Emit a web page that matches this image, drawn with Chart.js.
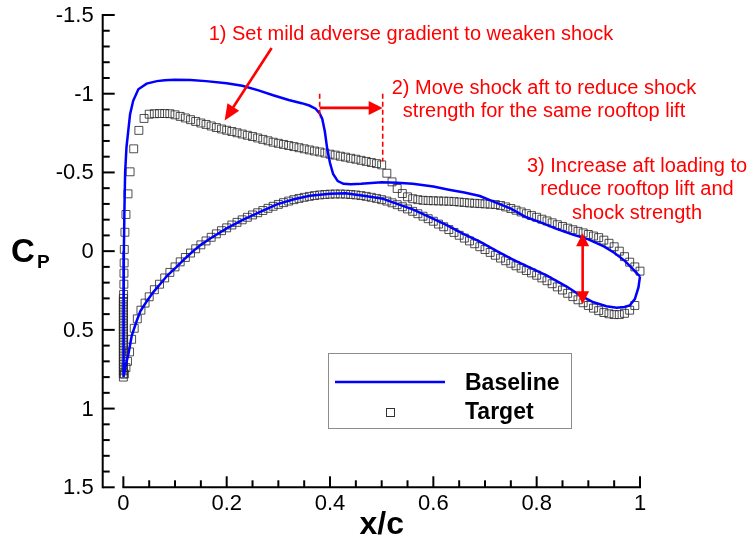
<!DOCTYPE html>
<html>
<head>
<meta charset="utf-8">
<title>Cp distribution - baseline vs target</title>
<script src="https://cdn.jsdelivr.net/npm/chart.js@4.4.1/dist/chart.umd.min.js"></script>
<style>
  html, body { margin: 0; padding: 0; background: #fff; }
  #wrap { position: relative; width: 748px; height: 540px; }
</style>
</head>
<body>
<div id="wrap"><canvas id="cpChart"></canvas></div>
<script>
// ---- data ----
const seriesNames = ['Baseline', 'Target'];

// baseline, upper surface (LE -> TE)
const baseUpperX = [0, 0.0003, 0.0006, 0.001, 0.002, 0.0034, 0.006, 0.009, 0.013, 0.019,
  0.029, 0.045, 0.065, 0.08, 0.1, 0.13, 0.16, 0.2, 0.23, 0.26,
  0.29, 0.32, 0.345, 0.36, 0.372, 0.38, 0.385, 0.39, 0.395, 0.4,
  0.406, 0.415, 0.426, 0.44, 0.46, 0.48, 0.5, 0.53, 0.56, 0.6,
  0.63, 0.66, 0.69, 0.72, 0.75, 0.78, 0.81, 0.84, 0.87, 0.9,
  0.93, 0.95, 0.97, 0.985, 0.995, 1.0];
const baseUpperCp = [0.8, 0.6, 0.35, 0, -0.25, -0.5, -0.66, -0.75, -0.87, -0.955,
  -1.028, -1.064, -1.08, -1.086, -1.088, -1.087, -1.08, -1.066, -1.05, -1.023,
  -0.99, -0.96, -0.94, -0.925, -0.905, -0.875, -0.84, -0.76, -0.64, -0.56,
  -0.49, -0.445, -0.428, -0.425, -0.428, -0.433, -0.437, -0.435, -0.428, -0.41,
  -0.39, -0.372, -0.35, -0.31, -0.27, -0.215, -0.18, -0.14, -0.105, -0.075,
  -0.03, 0.01, 0.06, 0.11, 0.145, 0.16];

// baseline, lower surface (LE -> TE)
const baseLowerX = [0, 0.002, 0.005, 0.01, 0.016, 0.025, 0.033, 0.045, 0.058, 0.071,
  0.085, 0.103, 0.12, 0.135, 0.15, 0.168, 0.2, 0.232, 0.265, 0.297,
  0.33, 0.361, 0.4, 0.43, 0.465, 0.5, 0.53, 0.56, 0.594, 0.626,
  0.658, 0.69, 0.723, 0.755, 0.787, 0.82, 0.858, 0.884, 0.91, 0.935,
  0.955, 0.97, 0.98, 0.99, 0.997, 1.0];
const baseLowerCp = [0.8, 0.77, 0.72, 0.65, 0.54, 0.45, 0.38, 0.32, 0.26, 0.21,
  0.155, 0.1, 0.045, 0, -0.04, -0.08, -0.145, -0.2, -0.25, -0.297,
  -0.33, -0.352, -0.365, -0.368, -0.352, -0.335, -0.3, -0.265, -0.215, -0.165,
  -0.11, -0.06, 0, 0.055, 0.105, 0.155, 0.225, 0.28, 0.325, 0.35,
  0.36, 0.355, 0.345, 0.305, 0.23, 0.16];

// target, upper surface (LE -> TE)
const targetUpperX = [0, 0, 0, 0, 0, 0, 0, 0, 0, 0,
  0, 0, 0, 0, 0, 0, 0, 0, 0, 0,
  0, 0, 0, 0, 0, 0, 0.0005, 0.001, 0.0012, 0.0015,
  0.0018, 0.003, 0.005, 0.009, 0.013, 0.02, 0.03, 0.04,
  0.05, 0.06, 0.07, 0.08, 0.09, 0.10, 0.11, 0.12, 0.13, 0.14,
  0.15, 0.16, 0.17, 0.18, 0.19, 0.20, 0.21, 0.22, 0.23, 0.24,
  0.25, 0.26, 0.27, 0.28, 0.29, 0.30, 0.31, 0.32, 0.33, 0.34,
  0.35, 0.36, 0.37, 0.38, 0.39, 0.40, 0.41, 0.42, 0.43, 0.44,
  0.45, 0.46, 0.47, 0.48, 0.49, 0.50, 0.51, 0.52, 0.53, 0.54,
  0.55, 0.56, 0.57, 0.58, 0.59, 0.60, 0.61, 0.62, 0.63, 0.64,
  0.65, 0.66, 0.67, 0.68, 0.69, 0.70, 0.71, 0.72, 0.73, 0.74,
  0.75, 0.76, 0.77, 0.78, 0.79, 0.80, 0.81, 0.82, 0.83, 0.84,
  0.85, 0.86, 0.87, 0.88, 0.89, 0.90, 0.91, 0.92, 0.93, 0.94,
  0.95, 0.96, 0.97, 0.98, 0.99, 1.00];
const targetUpperCp = [0.80, 0.78, 0.76, 0.74, 0.72, 0.70, 0.68, 0.66, 0.64, 0.62,
  0.60, 0.58, 0.56, 0.54, 0.52, 0.50, 0.48, 0.46, 0.44, 0.42,
  0.40, 0.38, 0.36, 0.34, 0.32, 0.30, 0.275, 0.21, 0.14, 0.075,
  -0.011, -0.12, -0.233, -0.364, -0.504, -0.65, -0.767, -0.843,
  -0.870, -0.873, -0.874, -0.874, -0.873, -0.866, -0.856, -0.846, -0.835, -0.824,
  -0.814, -0.805, -0.795, -0.785, -0.776, -0.768, -0.760, -0.752, -0.744, -0.736,
  -0.728, -0.719, -0.710, -0.701, -0.692, -0.685, -0.678, -0.671, -0.664, -0.657,
  -0.650, -0.643, -0.636, -0.630, -0.623, -0.616, -0.610, -0.603, -0.597, -0.590,
  -0.584, -0.577, -0.570, -0.563, -0.556, -0.548, -0.495, -0.440, -0.398, -0.366,
  -0.345, -0.333, -0.327, -0.323, -0.321, -0.320, -0.319, -0.318, -0.317, -0.315,
  -0.312, -0.309, -0.306, -0.304, -0.302, -0.300, -0.298, -0.296, -0.290, -0.281,
  -0.271, -0.260, -0.249, -0.238, -0.226, -0.215, -0.203, -0.192, -0.180, -0.168,
  -0.157, -0.146, -0.136, -0.126, -0.116, -0.106, -0.096, -0.086, -0.070, -0.050,
  -0.028, 0.000, 0.035, 0.070, 0.100, 0.127];

// target, lower surface (LE -> TE)
const targetLowerX = [0.002, 0.005, 0.008, 0.012, 0.016, 0.021, 0.027, 0.034, 0.042, 0.05,
  0.06, 0.07, 0.08, 0.09, 0.10, 0.11, 0.12, 0.13, 0.14,
  0.15, 0.16, 0.17, 0.18, 0.19, 0.20, 0.21, 0.22, 0.23, 0.24,
  0.25, 0.26, 0.27, 0.28, 0.29, 0.30, 0.31, 0.32, 0.33, 0.34,
  0.35, 0.36, 0.37, 0.38, 0.39, 0.40, 0.41, 0.42, 0.43, 0.44,
  0.45, 0.46, 0.47, 0.48, 0.49, 0.50, 0.51, 0.52, 0.53, 0.54,
  0.55, 0.56, 0.57, 0.58, 0.59, 0.60, 0.61, 0.62, 0.63, 0.64,
  0.65, 0.66, 0.67, 0.68, 0.69, 0.70, 0.71, 0.72, 0.73, 0.74,
  0.75, 0.76, 0.77, 0.78, 0.79, 0.80, 0.81, 0.82, 0.83, 0.84,
  0.85, 0.86, 0.87, 0.88, 0.89, 0.90, 0.91, 0.92, 0.93, 0.94,
  0.95, 0.96, 0.97, 0.98, 0.99];
const targetLowerCp = [0.78, 0.74, 0.70, 0.64, 0.56, 0.49, 0.43, 0.375, 0.33, 0.29,
  0.245, 0.21, 0.17, 0.135, 0.10, 0.068, 0.04, 0.012, -0.015,
  -0.04, -0.065, -0.088, -0.11, -0.13, -0.148, -0.166, -0.183, -0.199, -0.215,
  -0.23, -0.244, -0.258, -0.272, -0.285, -0.297, -0.308, -0.318, -0.327, -0.335,
  -0.342, -0.348, -0.353, -0.357, -0.36, -0.362, -0.363, -0.363, -0.362, -0.36,
  -0.357, -0.353, -0.348, -0.342, -0.335, -0.327, -0.318, -0.307, -0.295, -0.282,
  -0.268, -0.253, -0.238, -0.222, -0.206, -0.19, -0.172, -0.155, -0.137, -0.119,
  -0.101, -0.083, -0.065, -0.047, -0.028, -0.01, 0.008, 0.026, 0.044, 0.061,
  0.077, 0.093, 0.108, 0.123, 0.138, 0.153, 0.17, 0.188, 0.207, 0.227,
  0.247, 0.268, 0.289, 0.309, 0.328, 0.345, 0.362, 0.378, 0.39, 0.398,
  0.403, 0.403, 0.395, 0.375, 0.345];

const xTicks = [0, 0.2, 0.4, 0.6, 0.8, 1];
const yTicks = [-1.5, -1, -0.5, 0, 0.5, 1, 1.5];

const note1 = ['1) Set mild adverse gradient to weaken shock'];
const note2 = ['2) Move shock aft to reduce shock', 'strength for the same rooftop lift'];
const note3 = ['3) Increase aft loading to', 'reduce rooftop lift and', 'shock strength'];

// ---- helpers ----
const pts = (xs, ys) => xs.map((x, i) => ({ x, y: ys[i] }));
const FONT = '"Liberation Sans", Arial, Helvetica, sans-serif';
const RED = '#ff0000';

// closed loop: TE -> upper -> LE -> lower -> TE
const baselineData = pts(baseUpperX, baseUpperCp).reverse().concat(pts(baseLowerX, baseLowerCp).slice(1));
const targetData = pts(targetUpperX, targetUpperCp).concat(pts(targetLowerX, targetLowerCp));

function arrowHead(ctx, x1, y1, x2, y2, len, half) {
  const a = Math.atan2(y2 - y1, x2 - x1);
  ctx.beginPath();
  ctx.moveTo(x2, y2);
  ctx.lineTo(x2 - len * Math.cos(a) + half * Math.sin(a), y2 - len * Math.sin(a) - half * Math.cos(a));
  ctx.lineTo(x2 - len * Math.cos(a) - half * Math.sin(a), y2 - len * Math.sin(a) + half * Math.cos(a));
  ctx.closePath();
  ctx.fill();
}
function arrowLine(ctx, x1, y1, x2, y2, len, half) {
  const a = Math.atan2(y2 - y1, x2 - x1);
  ctx.beginPath();
  ctx.moveTo(x1, y1);
  ctx.lineTo(x2 - (len - 2) * Math.cos(a), y2 - (len - 2) * Math.sin(a));
  ctx.stroke();
  arrowHead(ctx, x1, y1, x2, y2, len, half);
}

// tecplot-like axes: inward ticks, x axis only from 0 to 1
const axesPlugin = {
  id: 'tecAxes',
  afterDraw(chart) {
    const { ctx, chartArea: ca, scales: { x, y } } = chart;
    ctx.save();
    ctx.strokeStyle = '#000';
    ctx.fillStyle = '#000';
    ctx.lineWidth = 2;
    ctx.lineCap = 'butt';

    // y axis
    const ax = ca.left;
    ctx.beginPath();
    ctx.moveTo(ax, y.getPixelForValue(-1.5) - 1);
    ctx.lineTo(ax, y.getPixelForValue(1.5) + 1);
    ctx.stroke();
    for (let k = -15; k <= 15; k++) {
      const v = k / 10, p = y.getPixelForValue(v);
      const len = k % 5 === 0 ? 12 : 7;
      ctx.beginPath(); ctx.moveTo(ax, p); ctx.lineTo(ax + len, p); ctx.stroke();
    }
    // x axis
    const ay = ca.bottom;
    ctx.beginPath();
    ctx.moveTo(x.getPixelForValue(0) - 1, ay);
    ctx.lineTo(x.getPixelForValue(1) + 1, ay);
    ctx.stroke();
    for (let k = 0; k <= 20; k++) {
      const p = x.getPixelForValue(k / 20);
      const len = k % 4 === 0 ? 11 : 7;
      ctx.beginPath(); ctx.moveTo(p, ay); ctx.lineTo(p, ay - len); ctx.stroke();
    }

    // tick labels
    ctx.font = '22px ' + FONT;
    ctx.textAlign = 'right';
    ctx.textBaseline = 'middle';
    yTicks.forEach(v => ctx.fillText(String(v), ax - 9, y.getPixelForValue(v) + 1));
    ctx.textAlign = 'center';
    ctx.textBaseline = 'alphabetic';
    xTicks.forEach(v => ctx.fillText(String(v), x.getPixelForValue(v), 510));

    // axis titles
    ctx.font = 'bold 32px ' + FONT;
    ctx.fillText('x/c', (x.getPixelForValue(0) + x.getPixelForValue(1)) / 2, 534);
    ctx.textAlign = 'left';
    ctx.font = 'bold 33px ' + FONT;
    ctx.fillText('C', 11, 262);
    ctx.font = 'bold 19px ' + FONT;
    ctx.fillText('P', 37, 268);

    // legend box
    ctx.lineWidth = 1;
    ctx.strokeStyle = '#8c8c8c';
    ctx.strokeRect(328.5, 353.5, 243, 75);
    ctx.strokeStyle = '#0000ff';
    ctx.lineWidth = 2.5;
    ctx.beginPath(); ctx.moveTo(335, 382); ctx.lineTo(445, 382); ctx.stroke();
    ctx.strokeStyle = '#333';
    ctx.lineWidth = 1;
    ctx.strokeRect(386.5, 408.5, 8, 8);
    ctx.fillStyle = '#000';
    ctx.font = 'bold 23px ' + FONT;
    ctx.fillText(seriesNames[0], 465, 390);
    ctx.fillText(seriesNames[1], 465, 419);

    // annotations
    ctx.fillStyle = RED;
    ctx.strokeStyle = RED;
    ctx.font = '20px ' + FONT;
    ctx.textAlign = 'center';
    note1.forEach((t, i) => ctx.fillText(t, 411, 40 + i * 23.3));
    note2.forEach((t, i) => ctx.fillText(t, 544, 94 + i * 23.3));
    note3.forEach((t, i) => ctx.fillText(t, 637, 172 + i * 23.3));

    ctx.lineWidth = 2.6;
    // 1) arrow to the target rooftop
    arrowLine(ctx, x.getPixelForValue(0.287), y.getPixelForValue(-1.29),
      x.getPixelForValue(0.196), y.getPixelForValue(-0.83), 16, 7);
    // 2) shock move: dashed markers and arrow
    const xa = x.getPixelForValue(0.38), xb = x.getPixelForValue(0.502);
    ctx.lineWidth = 1.6;
    ctx.setLineDash([5, 3]);
    ctx.beginPath();
    ctx.moveTo(xa, y.getPixelForValue(-1.0)); ctx.lineTo(xa, y.getPixelForValue(-0.845));
    ctx.moveTo(xb, y.getPixelForValue(-1.0)); ctx.lineTo(xb, y.getPixelForValue(-0.57));
    ctx.stroke();
    ctx.setLineDash([]);
    ctx.lineWidth = 2.6;
    const ya = y.getPixelForValue(-0.91);
    arrowLine(ctx, xa, ya, xb, ya, 14, 7);
    // 3) double arrow for aft loading
    const xc = x.getPixelForValue(0.889);
    const yt = y.getPixelForValue(-0.114), yb = y.getPixelForValue(0.337);
    ctx.beginPath(); ctx.moveTo(xc, yt + 10); ctx.lineTo(xc, yb - 10); ctx.stroke();
    arrowHead(ctx, xc, yb, xc, yt, 13, 6.5);
    arrowHead(ctx, xc, yt, xc, yb, 13, 6.5);
    ctx.restore();
  }
};

new Chart(document.getElementById('cpChart').getContext('2d'), {
  type: 'scatter',
  data: {
    datasets: [
      {
        label: seriesNames[0],
        data: baselineData,
        showLine: true,
        borderColor: '#0000ff',
        borderWidth: 2.5,
        pointRadius: 0,
        tension: 0,
        clip: false
      },
      {
        label: seriesNames[1],
        data: targetData,
        showLine: false,
        pointStyle: 'rect',
        pointRadius: 5.6,
        pointBorderWidth: 1,
        pointBorderColor: 'rgba(35,35,35,0.8)',
        pointBackgroundColor: 'rgba(0,0,0,0)',
        clip: false
      }
    ]
  },
  options: {
    responsive: true,
    maintainAspectRatio: false,
    animation: false,
    layout: { padding: { left: 102.7, right: 108, top: 15, bottom: 52.7 } },
    plugins: { legend: { display: false }, tooltip: { enabled: false } },
    scales: {
      x: { type: 'linear', min: -0.04, max: 1, display: false },
      y: { type: 'linear', min: -1.5, max: 1.5, reverse: true, display: false }
    }
  },
  plugins: [axesPlugin]
});
</script>
</body>
</html>
